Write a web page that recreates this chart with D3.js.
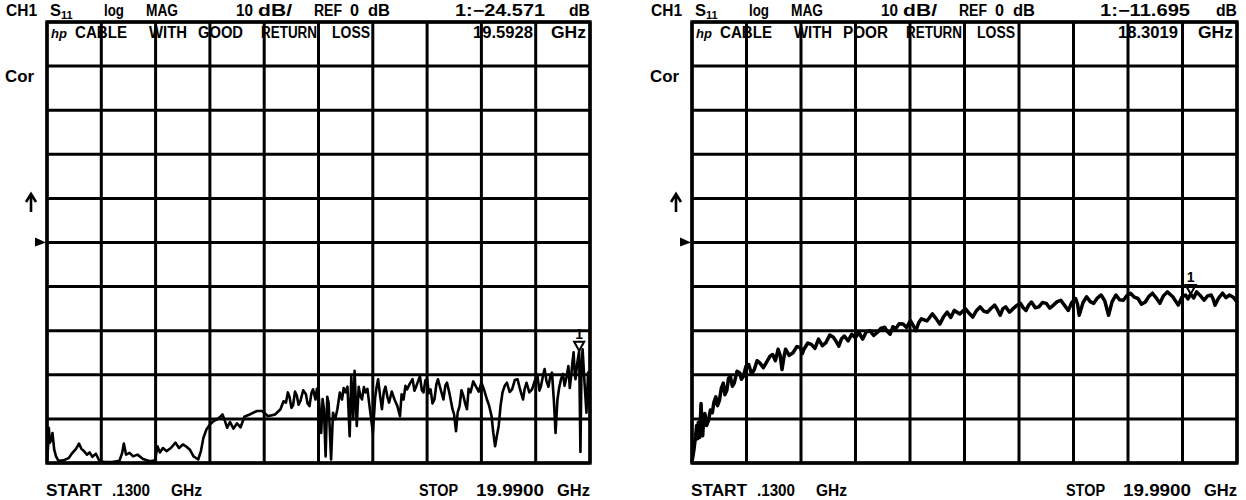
<!DOCTYPE html>
<html><head><meta charset="utf-8">
<script src="https://cdn.jsdelivr.net/npm/d3@7/dist/d3.min.js"></script>
<style>body{margin:0;background:#fff}svg{display:block}text{font-family:"Liberation Sans",Arial,sans-serif;font-weight:bold;fill:#000}</style>
</head><body><svg id="c" width="1246" height="500"></svg>
<script>
// ---- data ----
const startGHz = 0.13, stopGHz = 19.99;
const refDB = 0, dbPerDiv = 10, nDivX = 10, nDivY = 10;

// [GHz, dB] : cable with good return loss
const goodTrace = [[0.13,-49.6],[0.17,-46.2],[0.196,-42.0],[0.236,-45.4],[0.289,-44.7],[0.33,-43.2],[0.395,-47.0],[0.46,-48.5],[0.55,-49.5],[0.73,-49.4],[0.92,-48.9],[1.06,-47.7],[1.19,-46.8],[1.30,-45.6],[1.39,-46.8],[1.48,-47.3],[1.59,-48.1],[1.69,-47.6],[1.79,-48.6],[1.92,-47.9],[2.05,-49.6],[2.25,-49.8],[2.51,-49.8],[2.78,-49.5],[2.88,-47.7],[2.94,-45.6],[3.02,-48.1],[3.15,-47.7],[3.28,-48.5],[3.44,-48.1],[3.64,-49.1],[3.90,-49.6],[4.08,-49.4],[4.17,-46.2],[4.26,-47.6],[4.37,-46.6],[4.50,-47.3],[4.66,-46.6],[4.83,-45.4],[4.96,-46.6],[5.10,-45.8],[5.23,-46.3],[5.36,-47.0],[5.49,-48.5],[5.66,-49.2],[5.76,-47.3],[5.85,-44.3],[5.96,-42.4],[6.09,-41.3],[6.22,-40.5],[6.35,-40.1],[6.49,-39.4],[6.55,-39.0],[6.64,-40.5],[6.72,-42.0],[6.82,-40.7],[6.95,-42.2],[7.08,-41.0],[7.21,-41.9],[7.35,-39.5],[7.54,-39.0],[7.81,-38.2],[8.01,-38.2],[8.21,-39.4],[8.47,-39.0],[8.67,-37.8],[8.78,-36.0],[8.87,-36.3],[8.94,-34.0],[9.00,-35.0],[9.07,-37.5],[9.13,-36.9],[9.20,-33.8],[9.27,-34.8],[9.33,-36.8],[9.40,-35.9],[9.50,-33.5],[9.60,-34.4],[9.66,-36.5],[9.73,-37.1],[9.80,-34.2],[9.86,-33.3],[9.95,-35.6],[10.00,-33.2],[10.06,-34.0],[10.16,-43.2],[10.21,-35.5],[10.26,-37.8],[10.32,-48.5],[10.38,-35.0],[10.43,-36.3],[10.52,-49.2],[10.59,-38.6],[10.67,-40.1],[10.75,-37.8],[10.84,-34.0],[10.92,-35.6],[10.98,-33.0],[11.05,-34.0],[11.12,-32.7],[11.20,-43.9],[11.26,-30.4],[11.33,-40.1],[11.38,-29.1],[11.46,-41.6],[11.53,-32.7],[11.59,-34.8],[11.65,-35.6],[11.72,-32.8],[11.78,-34.0],[11.85,-33.2],[11.91,-36.3],[12.05,-43.2],[12.13,-35.3],[12.18,-33.0],[12.24,-31.0],[12.31,-34.6],[12.38,-37.8],[12.45,-33.8],[12.51,-32.7],[12.58,-35.0],[12.64,-36.3],[12.74,-33.8],[12.84,-35.6],[12.94,-37.0],[13.04,-39.4],[13.10,-34.4],[13.17,-35.6],[13.24,-32.5],[13.30,-33.3],[13.40,-32.0],[13.50,-31.0],[13.57,-33.6],[13.63,-32.7],[13.70,-31.5],[13.77,-30.3],[13.84,-33.5],[13.90,-34.0],[13.97,-31.2],[14.03,-31.0],[14.10,-34.2],[14.16,-33.3],[14.23,-36.5],[14.30,-35.6],[14.37,-32.2],[14.43,-31.0],[14.53,-33.4],[14.63,-35.6],[14.70,-32.4],[14.76,-31.8],[14.86,-34.5],[14.96,-37.8],[15.02,-39.0],[15.09,-42.8],[15.15,-38.5],[15.22,-37.1],[15.29,-33.5],[15.36,-34.8],[15.42,-36.4],[15.49,-37.8],[15.55,-33.2],[15.62,-34.0],[15.72,-31.5],[15.82,-32.7],[15.92,-33.8],[16.02,-31.8],[16.12,-33.5],[16.22,-35.6],[16.30,-37.0],[16.39,-39.4],[16.45,-43.0],[16.52,-46.2],[16.58,-44.0],[16.65,-41.6],[16.72,-37.0],[16.79,-34.0],[16.87,-32.5],[16.95,-31.8],[17.05,-33.9],[17.14,-33.3],[17.24,-31.2],[17.34,-31.0],[17.44,-33.5],[17.54,-35.6],[17.60,-33.2],[17.67,-31.8],[17.77,-34.0],[17.87,-33.3],[17.97,-31.4],[18.07,-30.3],[18.14,-33.6],[18.20,-32.5],[18.27,-30.2],[18.33,-28.7],[18.40,-31.5],[18.47,-32.7],[18.53,-30.6],[18.60,-29.5],[18.67,-36.0],[18.73,-43.2],[18.80,-35.6],[18.86,-33.0],[18.93,-31.0],[19.00,-29.8],[19.06,-32.5],[19.13,-30.5],[19.20,-28.0],[19.25,-33.0],[19.30,-30.3],[19.35,-27.0],[19.39,-24.9],[19.43,-29.6],[19.46,-31.0],[19.52,-27.5],[19.5928,-24.571],[19.64,-47.5],[19.68,-28.0],[19.72,-24.2],[19.79,-31.8],[19.86,-38.6],[19.92,-29.5],[19.99,-38.6]];

// [GHz, dB] : cable with poor return loss
const poorTrace = [[0.13,-49.8],[0.20,-47.0],[0.26,-44.0],[0.30,-41.5],[0.33,-44.5],[0.36,-40.8],[0.41,-44.2],[0.46,-36.5],[0.49,-41.0],[0.52,-43.8],[0.56,-39.5],[0.60,-38.8],[0.66,-41.5],[0.73,-40.4],[0.80,-38.0],[0.87,-38.6],[0.93,-36.2],[1.00,-35.0],[1.06,-37.0],[1.13,-35.8],[1.20,-33.0],[1.27,-31.9],[1.33,-34.5],[1.40,-33.5],[1.46,-30.8],[1.53,-30.4],[1.60,-32.6],[1.67,-31.9],[1.77,-29.2],[1.87,-29.6],[1.93,-31.0],[2.00,-30.4],[2.10,-28.0],[2.20,-27.7],[2.30,-29.8],[2.40,-28.8],[2.50,-26.8],[2.60,-27.3],[2.73,-28.4],[2.87,-26.9],[2.97,-25.8],[3.07,-25.4],[3.17,-26.8],[3.27,-24.2],[3.34,-25.5],[3.41,-28.8],[3.48,-26.0],[3.54,-24.2],[3.67,-25.6],[3.81,-25.0],[3.95,-23.6],[4.08,-23.8],[4.15,-25.2],[4.21,-24.2],[4.35,-22.8],[4.48,-23.1],[4.61,-24.0],[4.74,-21.9],[4.88,-23.4],[5.01,-22.7],[5.15,-21.0],[5.28,-21.5],[5.38,-22.4],[5.48,-23.5],[5.58,-21.8],[5.68,-21.2],[5.82,-22.3],[5.95,-20.8],[6.08,-21.6],[6.22,-20.4],[6.28,-21.2],[6.35,-21.9],[6.48,-20.3],[6.62,-20.0],[6.75,-21.1],[6.88,-20.4],[7.01,-19.5],[7.15,-19.2],[7.25,-20.2],[7.35,-20.8],[7.45,-19.1],[7.55,-19.6],[7.68,-18.4],[7.82,-18.5],[7.95,-19.3],[8.09,-17.7],[8.19,-18.8],[8.29,-20.0],[8.39,-18.2],[8.49,-17.3],[8.69,-17.8],[8.89,-16.2],[9.02,-17.2],[9.16,-18.5],[9.30,-16.8],[9.43,-15.8],[9.56,-17.0],[9.69,-15.4],[9.89,-16.2],[10.09,-15.0],[10.22,-16.0],[10.36,-16.9],[10.50,-15.4],[10.63,-14.6],[10.77,-15.6],[10.90,-15.8],[11.03,-14.9],[11.16,-14.2],[11.26,-15.2],[11.36,-16.5],[11.46,-15.0],[11.56,-14.6],[11.70,-15.8],[11.83,-15.0],[11.96,-14.3],[12.10,-13.8],[12.20,-14.8],[12.30,-15.4],[12.40,-14.2],[12.50,-13.5],[12.64,-14.8],[12.77,-14.6],[12.90,-13.6],[13.04,-13.8],[13.17,-14.9],[13.30,-14.2],[13.44,-13.4],[13.57,-13.1],[13.70,-14.2],[13.84,-15.4],[13.97,-13.6],[14.11,-12.7],[14.18,-14.0],[14.24,-16.5],[14.38,-13.6],[14.51,-12.3],[14.64,-13.4],[14.77,-13.8],[14.90,-12.6],[15.04,-11.9],[15.17,-13.2],[15.31,-16.5],[15.44,-13.4],[15.58,-11.9],[15.71,-13.0],[15.85,-13.1],[15.98,-12.0],[16.11,-11.5],[16.25,-12.4],[16.38,-12.7],[16.51,-14.0],[16.65,-13.5],[16.78,-12.2],[16.91,-11.5],[17.05,-12.6],[17.18,-13.8],[17.31,-12.1],[17.45,-11.2],[17.65,-12.3],[17.85,-14.2],[17.98,-12.4],[18.12,-11.9],[18.20,-12.8],[18.3019,-11.695],[18.41,-12.6],[18.52,-11.2],[18.65,-12.0],[18.79,-13.1],[18.92,-12.1],[19.05,-11.9],[19.12,-12.8],[19.19,-14.2],[19.32,-12.6],[19.46,-11.5],[19.59,-12.5],[19.72,-11.9],[19.85,-12.4],[19.99,-13.5]];

const headerLabels = ["CH1","S","11","log","MAG","10","dB/","REF","0","dB"];
const titles = ["CABLE WITH GOOD RETURN LOSS","CABLE WITH POOR RETURN LOSS"];
const markerReadout = ["1:\u221224.571","1:\u221211.695"];
const markerFreqText = ["19.5928","18.3019"];
const markerFreq = [19.5928, 18.3019];
const markerDB = [-24.571, -11.695];
const startLabel = ["START",".1300","GHz"];
const stopLabel = ["STOP","19.9900","GHz"];

// ---- drawing ----
const svg = d3.select("#c");
const panels = [
  {x0:47, x1:590, trace:goodTrace, sw:2.6},
  {x0:692, x1:1237, trace:poorTrace, sw:3.5}
];
const plotTop = 22, plotBottom = 463;
const fs = 16;

function word(g, t, x, y, len, size) {
  const el = g.append("text").attr("x", x).attr("y", y).attr("font-size", size || fs).text(t);
  if (len) el.attr("textLength", len).attr("lengthAdjust", "spacingAndGlyphs");
  return el;
}

panels.forEach((p, i) => {
  const g = svg.append("g");
  const x = d3.scaleLinear().domain([startGHz, stopGHz]).range([p.x0, p.x1]);
  const y = d3.scaleLinear().domain([refDB - dbPerDiv*nDivY/2, refDB + dbPerDiv*nDivY/2]).range([plotBottom, plotTop]);
  const xt = d3.range(nDivX+1).map(k => startGHz + k*(stopGHz-startGHz)/nDivX);
  const yt = d3.range(nDivY+1).map(k => y.domain()[0] + k*dbPerDiv);

  // grid
  g.selectAll(".vx").data(xt).join("line")
    .attr("x1", d => x(d)).attr("x2", d => x(d)).attr("y1", plotTop).attr("y2", plotBottom)
    .attr("stroke", "#000").attr("stroke-width", 3);
  g.selectAll(".hy").data(yt).join("line")
    .attr("y1", d => y(d)).attr("y2", d => y(d)).attr("x1", p.x0).attr("x2", p.x1)
    .attr("stroke", "#000").attr("stroke-width", 3);
  g.append("rect").attr("x", p.x0).attr("y", plotTop).attr("width", p.x1-p.x0).attr("height", plotBottom-plotTop)
    .attr("fill", "none").attr("stroke", "#000").attr("stroke-width", 3.4);

  // trace
  g.append("path").datum(p.trace)
    .attr("d", d3.line().x(d => x(d[0])).y(d => y(d[1])))
    .attr("fill", "none").attr("stroke", "#000").attr("stroke-width", p.sw).attr("stroke-linejoin", "round");

  // marker
  const mx = x(markerFreq[i]), my = y(markerDB[i]);
  g.append("path").attr("d", `M${mx},${my} L${mx-5},${my-9} L${mx+5},${my-9} Z`)
    .attr("fill", "none").attr("stroke", "#000").attr("stroke-width", 2);
  g.append("text").attr("x", mx).attr("y", my-12).attr("text-anchor", "middle").attr("font-size", 14).text("1");

  // left annotations
  const off = p.x0 - 47;
  word(g, "Cor", 5+off, 82, 29);
  const ax = 31+off;
  g.append("path").attr("d", `M${ax},212 L${ax},196 M${ax-5},202 L${ax},194 L${ax+5},202`)
    .attr("fill","none").attr("stroke","#000").attr("stroke-width",2.6);
  const ry = y(refDB);
  g.append("path").attr("d", `M${p.x0-12},${ry-5} L${p.x0-1},${ry} L${p.x0-12},${ry+4} Z`).attr("fill", "#000");

  // header line 1
  const hy = 16;
  const hx = [6,50,61,104,146,236,258,314,350,368];
  const hl = [31,11,0,20,32,17,34,28,9,22];
  headerLabels.forEach((t, k) => {
    if (k === 2) word(g, t, hx[k]+off, hy+3, 0, 11);
    else word(g, t, hx[k]+off, hy, hl[k]);
  });
  word(g, markerReadout[i], 455+off, hy, 90);
  word(g, "dB", p.x1-21, hy, 21);

  // header line 2 (inside box)
  const ly = 38;
  g.append("text").attr("x", p.x0+4).attr("y", ly).attr("font-size", 13).attr("font-style","italic").text("hp");
  const words = titles[i].split(" ");
  const wx = [75,149,198,261,332];
  const wl = [52,38,45,56,38];
  words.forEach((w, k) => word(g, w, wx[k]+off, ly, wl[k]));
  word(g, markerFreqText[i], 473+off, ly, 60);
  word(g, "GHz", p.x1-39, ly, 35);

  // footer
  const fy = 496;
  const sx = [-1, 65, 124];
  const sl = [56, 38, 31];
  startLabel.forEach((t,k) => word(g, t, p.x0+sx[k], fy, sl[k]));
  const ex = [p.x1-171, p.x1-114, p.x1-33];
  const el = [39, 68, 33];
  stopLabel.forEach((t,k) => word(g, t, ex[k], fy, el[k]));
});
</script></body></html>
